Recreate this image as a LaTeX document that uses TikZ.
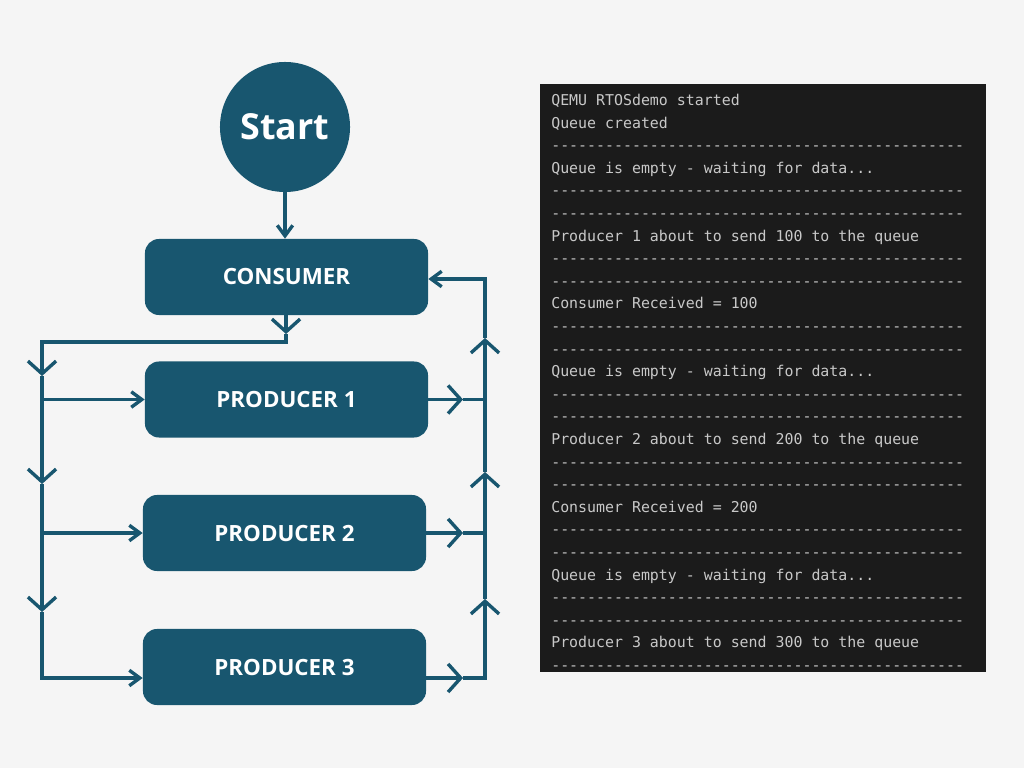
\documentclass[tikz,border=0pt]{standalone}
\usepackage{fontspec}
\setmainfont{Open Sans}
\setmonofont{DejaVu Sans Mono}
\usepackage{tikz}
\usetikzlibrary{arrows.meta, shapes, positioning}
\definecolor{flowblue}{HTML}{18566F}
\definecolor{paper}{HTML}{F5F5F5}
\definecolor{termbg}{HTML}{1B1B1B}
\definecolor{termtext}{HTML}{C8C8C8}
\newcommand{\dashrow}{----------------------------------------------}
\newcommand{\waitrow}{Queue is empty - waiting for data...}
\tikzset{endtip/.tip={Straight Barb[length=7.5pt, width=11pt]},
         bigtip/.tip={Straight Barb[length=9pt, width=20pt]}}
\tikzstyle{block} = [rectangle, rounded corners=0.35cm, fill=flowblue, text=white,
                     minimum width=7.075cm, minimum height=1.9cm,
                     font=\bfseries\fontsize{15.9}{18}\selectfont]
\tikzstyle{start} = [circle, fill=flowblue, text=white, inner sep=0, minimum size=3.25cm,
                     font=\bfseries\fontsize{25.5}{30}\selectfont]
\tikzstyle{flow} = [draw=flowblue, line width=2.4pt]
\tikzstyle{terminal} = [rectangle, fill=termbg, minimum width=11.15cm, minimum height=14.7cm]
\tikzstyle{termline} = [anchor=base west, inner sep=0, text=termtext,
                        font=\ttfamily\fontsize{10.6}{12}\selectfont]

\begin{document}
\begin{tikzpicture}[x=0.025cm, y=-0.025cm]
	\fill[paper] (0,0) rectangle (1024,768);
	\useasboundingbox (0,0) rectangle (1024,768);

	\node (Start) [start] at (285, 127) {Start};
	\node (Consumer) [block] at (286.5, 277) {CONSUMER};
	\node (Prod1) [block] at (286.5, 399.5) {PRODUCER 1};
	\node (Prod2) [block] at (284.5, 533) {PRODUCER 2};
	\node (Prod3) [block] at (284.5, 667) {PRODUCER 3};

	\draw[flow, -endtip] (Start.south) -- (Start.south |- Consumer.north);

	% consumer out, left rail
	\coordinate (CTip) at (286, 334);
	\coordinate (Drop) at (286, 342);
	\coordinate (LTop) at (42, 342);
	\coordinate (LTip1) at (42, 376);
	\coordinate (LTip2) at (42, 484);
	\coordinate (LTip3) at (42, 612);
	\coordinate (LP1) at (42, 399.5);
	\coordinate (LP2) at (42, 533);
	\coordinate (LP3) at (42, 678);
	\draw[flow, -bigtip] (Consumer.south -| CTip) -- (CTip);
	\draw[flow, -bigtip] (CTip) -- (Drop) -- (LTop) -- (LTip1);
	\draw[flow, -bigtip] (LTip1) -- (LTip2);
	\draw[flow, -bigtip] (LTip2) -- (LTip3);
	\draw[flow, -endtip] (LTip3) -- (LP3) -- (LP3 -| Prod3.west);
	\draw[flow, -endtip] (LP1) -- (Prod1.west);
	\draw[flow, -endtip] (LP2) -- (Prod2.west);

	% producers out, right rail
	\coordinate (RTip1) at (463, 399.5);
	\coordinate (RTip2) at (463, 533);
	\coordinate (RTip3) at (463, 678);
	\coordinate (RP1) at (485, 399.5);
	\coordinate (RP2) at (485, 533);
	\coordinate (RP3) at (485, 678);
	\coordinate (RUp3) at (485, 599);
	\coordinate (RUp2) at (485, 472);
	\coordinate (RUp1) at (485, 338);
	\coordinate (RTop) at (485, 279);
	\draw[flow, -bigtip] (Prod1.east) -- (RTip1);
	\draw[flow] (RTip1) -- (RP1);
	\draw[flow, -bigtip] (Prod2.east) -- (RTip2);
	\draw[flow] (RTip2) -- (RP2);
	\draw[flow, -bigtip] (RTip3 -| Prod3.east) -- (RTip3);
	\draw[flow, -bigtip] (RTip3) -- (RP3) -- (RUp3);
	\draw[flow, -bigtip] (RUp3) -- (RUp2);
	\draw[flow, -bigtip] (RUp2) -- (RUp1);
	\draw[flow, -endtip] (RUp1) -- (RTop) -- (RTop -| Consumer.east);

	% terminal output
	\node (Term) [terminal] at (763, 378) {};
	\foreach \txt [count=\i] in {{QEMU RTOSdemo started}, {Queue created}, \dashrow,
			\waitrow, \dashrow, \dashrow,
			{Producer 1 about to send 100 to the queue}, \dashrow, \dashrow,
			{Consumer Received = 100}, \dashrow, \dashrow,
			\waitrow, \dashrow, \dashrow,
			{Producer 2 about to send 200 to the queue}, \dashrow, \dashrow,
			{Consumer Received = 200}, \dashrow, \dashrow,
			\waitrow, \dashrow, \dashrow,
			{Producer 3 about to send 300 to the queue}, \dashrow}
		\node (Line\i) [termline] at (551, {105.5+22.6*(\i-1)}) {\txt};
\end{tikzpicture}
\end{document}
